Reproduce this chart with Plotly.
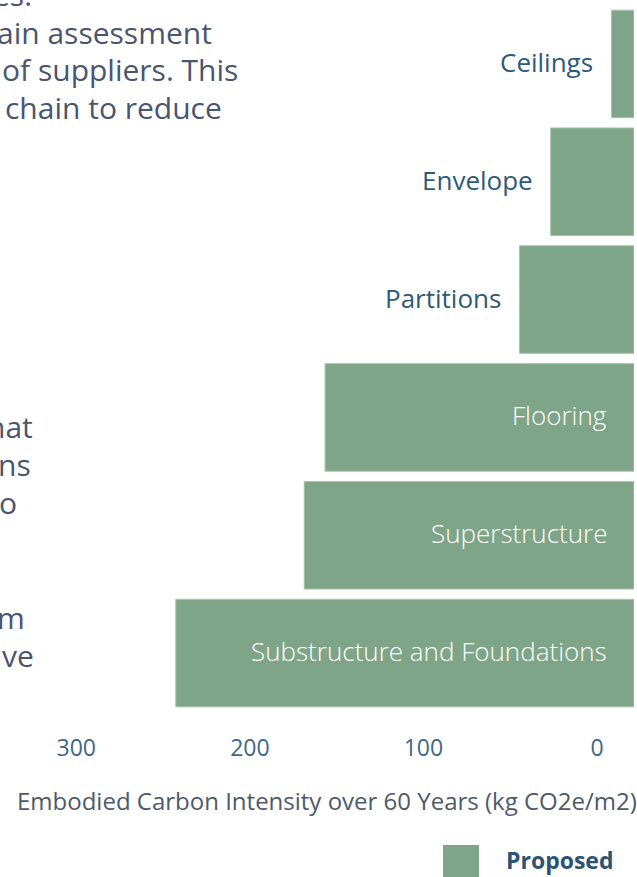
import plotly.graph_objects as go

categories = ["Ceilings", "Envelope", "Partitions", "Flooring", "Superstructure",
              "Substructure and Foundations"]
values = [13, 48, 66, 178, 190, 264]
label_inside = [False, False, False, True, True, True]
tick_vals = [0, 100, 200, 300]
tick_text = ["0", "100", "200", "300"]
series_name = "Proposed"
axis_title = "Embodied Carbon Intensity over 60 Years (kg CO2e/m2)"

# visible fragments of the (cropped) paragraph text on the left
para_lines = ["es.", "ain assessment", "of suppliers. This", "chain to reduce",
              "hat", "ns", "o", "m", "ve"]
para_right_px = [32, 212, 238, 222, 33, 31, 17, 25, 34]
para_base_px = [7.5, 45, 82, 120, 439, 477, 515, 630, 668]

W, H = 637, 877
ML, MR, MT, MB = 0, 3, 5, 165
PW, PH = W - ML - MR, H - MT - MB
FONT = "Open Sans"

BAR = "#7ea587"
BAR_LINE = "#a9c4ae"
LABEL_BLUE = "#2e5a79"
TICK_BLUE = "#3f6887"
PARA = "#4a5570"


def px_x(px):
    return (px - ML) / PW


def px_y(py):
    return 1 - (py - MT) / PH


fig = go.Figure()
fig.add_trace(go.Bar(
    x=values, y=categories, orientation="h", name=series_name,
    marker=dict(color=BAR, line=dict(color=BAR_LINE, width=1)),
    showlegend=False, hoverinfo="x+y",
))

annotations = []
for cat, v, inside in zip(categories, values, label_inside):
    if inside:
        annotations.append(dict(
            x=0, y=cat, xref="x", yref="y", text=cat, showarrow=False,
            xanchor="right", yanchor="middle", xshift=-25, yshift=2,
            font=dict(family=FONT, size=26, color="white", weight=300)))
    else:
        annotations.append(dict(
            x=v, y=cat, xref="x", yref="y", text=cat, showarrow=False,
            xanchor="right", yanchor="middle", xshift=-16, yshift=2,
            font=dict(family=FONT, size=26, color=LABEL_BLUE)))

PF = 30
for t, rx, by in zip(para_lines, para_right_px, para_base_px):
    annotations.append(dict(
        x=px_x(rx + 2), y=px_y(by - 0.36 * PF - 2), xref="paper", yref="paper",
        text=t, showarrow=False, xanchor="right", yanchor="middle",
        font=dict(family=FONT, size=PF, color=PARA)))

# axis title
annotations.append(dict(
    x=px_x(327), y=px_y(800), xref="paper", yref="paper", text=axis_title,
    showarrow=False, xanchor="center", yanchor="middle",
    font=dict(family=FONT, size=24, color="#4d5a69")))

# legend
annotations.append(dict(
    x=px_x(504), y=px_y(860), xref="paper", yref="paper", text="<b>" + series_name + "</b>",
    showarrow=False, xanchor="left", yanchor="middle",
    font=dict(family=FONT, size=23, color="#2c5371")))

fig.update_layout(
    width=W, height=H,
    margin=dict(l=ML, r=MR, t=MT, b=MB, pad=0),
    paper_bgcolor="white", plot_bgcolor="white",
    bargap=0.087,
    annotations=annotations,
    shapes=[dict(type="rect", xref="paper", yref="paper",
                 x0=px_x(443), x1=px_x(479), y0=px_y(845), y1=px_y(885),
                 fillcolor=BAR, line=dict(width=0))],
    xaxis=dict(range=[PW / 1.7357, 0], tickvals=tick_vals, ticktext=tick_text,
               showgrid=False, zeroline=False, showline=False, ticks="",
               ticklabelshift=37, ticklabelstandoff=20, ticklabeloverflow="allow",
               tickfont=dict(family=FONT, size=23, color=TICK_BLUE)),
    yaxis=dict(autorange="reversed", showticklabels=False, showgrid=False,
               zeroline=False, showline=False, ticks=""),
)

fig.write_html("out.html", config={"displayModeBar": False},
               post_script="document.body.style.margin='0px';document.body.style.overflow='hidden';")
